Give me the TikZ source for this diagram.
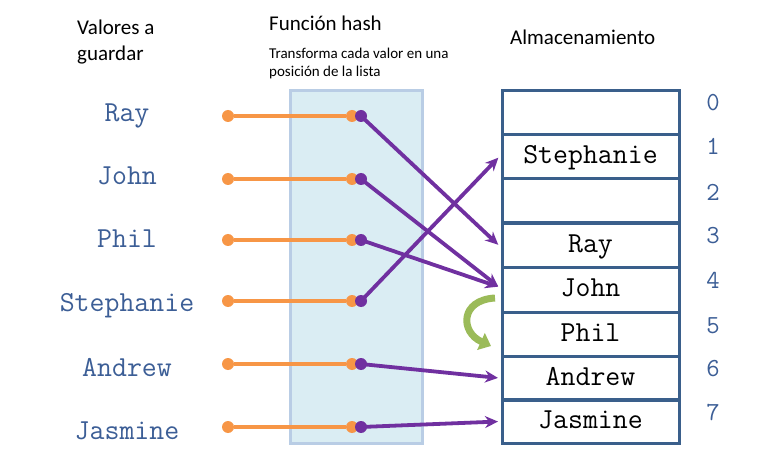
\documentclass[tikz,border=0pt]{standalone}
\usepackage{fontspec}
\setmainfont{Carlito}
\usetikzlibrary{arrows.meta}
\definecolor{purp}{HTML}{7030A0}
\definecolor{orng}{HTML}{F79646}
\definecolor{cellblue}{HTML}{3A5F8B}
\definecolor{txtblue}{HTML}{3C5E96}
\definecolor{hashfill}{HTML}{DAEDF3}
\definecolor{hashedge}{HTML}{B9CDE5}
\definecolor{grn}{HTML}{9BBB59}
\tikzset{
  cell/.style={draw=cellblue, line width=3pt, minimum width=177pt, minimum height=44pt, inner sep=0pt, text height=14pt, text depth=0pt, font=\ttfamily\fontsize{29}{29}\selectfont, text=black},
  valname/.style={anchor=base, inner sep=0pt, font=\ttfamily\fontsize{29}{29}\selectfont, text=txtblue},
  idx/.style={anchor=base, inner sep=0pt, font=\ttfamily\fontsize{26}{26}\selectfont, text=txtblue},
  odot/.style={circle, fill=orng, minimum size=12pt, inner sep=0pt},
  pdot/.style={circle, fill=purp, minimum size=12pt, inner sep=0pt},
  oline/.style={draw=orng, line width=3.2pt},
  parrow/.style={draw=purp, line width=3.8pt, -{Stealth[length=13pt,width=12pt]}, shorten >=1pt},
  head/.style={font=\fontsize{21}{24}\selectfont, anchor=base west, inner sep=0pt},
  subhead/.style={font=\fontsize{15}{18}\selectfont, anchor=base west, inner sep=0pt},
}
\begin{document}
\begin{tikzpicture}[x=1pt,y=-1pt]
\useasboundingbox (0,0) rectangle (758,465);
% headers
\node[head] (h1a) at (77,35) {Valores a};
\node[head] (h1b) at (77,61) {guardar};
\node[head] (h2) at (269,31) {Función hash};
\node[subhead] (h3a) at (269,59) {Transforma cada valor en una};
\node[subhead] (h3b) at (269,77) {posición de la lista};
\node[head] (h4) at (510,45) {Almacenamiento};
% hash box
\node[draw=hashedge, fill=hashfill, line width=3pt, minimum width=132pt, minimum height=352pt, inner sep=0pt] (hash) at (356,267) {};
% storage
\node[cell] (s0) at (590.5,113) {};
\node[cell] (s1) at (590.5,157) {Stephanie};
\node[cell] (s2) at (590.5,201) {};
\node[cell] (s3) at (590.5,245.5) {Ray};
\node[cell] (s4) at (590.5,290) {John};
\node[cell] (s5) at (590.5,334) {Phil};
\node[cell] (s6) at (590.5,378) {Andrew};
\node[cell] (s7) at (590.5,421.5) {Jasmine};
% indices
\node[idx] (i0) at (713,111) {0};
\node[idx] (i1) at (713,155) {1};
\node[idx] (i2) at (713,201) {2};
\node[idx] (i3) at (713,244) {3};
\node[idx] (i4) at (713,289) {4};
\node[idx] (i5) at (713,333) {5};
\node[idx] (i6) at (713,376) {6};
\node[idx] (i7) at (713,420) {7};
% values
\node[valname] (v1) at (127,122) {Ray};
\node[valname] (v2) at (127,185) {John};
\node[valname] (v3) at (127,248) {Phil};
\node[valname] (v4) at (127,312) {Stephanie};
\node[valname] (v5) at (127,376) {Andrew};
\node[valname] (v6) at (127,439) {Jasmine};
% connectors
\foreach \i/\y in {1/116,2/179,3/240,4/301,5/364,6/427}{
  \node[odot] (a\i) at (228,\y) {};
  \node[odot] (b\i) at (352,\y) {};
  \draw[oline] (a\i) -- (b\i);
  \node[pdot] (p\i) at (361,\y) {};
}
\coordinate (t3) at ([xshift=-1.5pt]s3.west);
\coordinate (t4) at ([xshift=-1.5pt,yshift=3pt]s4.west);
\coordinate (t1) at ([xshift=-1.5pt]s1.west);
\coordinate (t6) at ([xshift=-1.5pt]s6.west);
\coordinate (t7) at ([xshift=-1.5pt]s7.west);
\draw[parrow] (p1.center) -- (t3);
\draw[parrow] (p2.center) -- (t4);
\draw[parrow] (p3.center) -- (t4);
\draw[parrow] (p4.center) -- (t1);
\draw[parrow] (p5.center) -- (t6);
\draw[parrow] (p6.center) -- (t7);
% collision arrow
\coordinate (g0) at (495,298);
\coordinate (g1) at (491,346);
\draw[draw=grn, line width=7pt, -{Triangle[length=11pt,width=18pt]}] (g0) .. controls (460,300) and (460,332) .. (g1);
\end{tikzpicture}
\end{document}
